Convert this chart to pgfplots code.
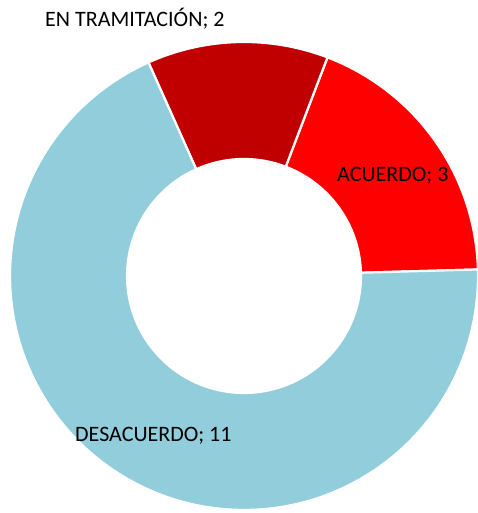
\documentclass[border=0pt]{standalone}
\usepackage{pgfplots}
\pgfplotsset{compat=1.18}
\usepackage{pgfplotstable}
\usepackage{fontspec}
\setmainfont{Carlito}
\definecolor{cAcuerdo}{HTML}{FF0000}
\definecolor{cTram}{HTML}{C00000}
\definecolor{cDesac}{HTML}{92CDDC}

\pgfplotstableread[col sep=comma]{
label,value
ACUERDO,3
TRAMITACION,2
DESACUERDO,11
}\donutdata

% annular sector: #1 start angle, #2 end angle, #3 colour
\newcommand\sector[3]{%
  \addplot[fill=#3, draw=white, line width=2.2pt, line join=round,
    domain=0:2.1, samples=211, variable=\u]
    ({244+((\u<1.05) ? 234 : 117)*cos(((\u<1.05) ? (#1+(#2-#1)*min(\u,1)) : (#2-(#2-#1)*min(max(\u-1.1,0),1))))},
     {-276+((\u<1.05) ? 234 : 117)*sin(((\u<1.05) ? (#1+(#2-#1)*min(\u,1)) : (#2-(#2-#1)*min(max(\u-1.1,0),1))))})
    -- cycle;
}

\begin{document}
\begin{tikzpicture}
\pgfplotstablegetelem{0}{value}\of\donutdata \let\vA\pgfplotsretval
\pgfplotstablegetelem{1}{value}\of\donutdata \let\vB\pgfplotsretval
\pgfplotstablegetelem{2}{value}\of\donutdata \let\vC\pgfplotsretval
\pgfmathsetmacro\tot{\vA+\vB+\vC}
\pgfmathsetmacro\sA{1.6}
\pgfmathsetmacro\eA{\sA+360*\vA/\tot}
\pgfmathsetmacro\eB{\eA+360*\vB/\tot}
\pgfmathsetmacro\eC{\eB+360*\vC/\tot}
\begin{axis}[
  hide axis, scale only axis,
  width=477pt, height=513pt,
  xmin=0, xmax=477, ymin=-513, ymax=0,
  clip=true,
]
\sector{\sA}{\eA}{cAcuerdo}
\sector{\eA}{\eB}{cTram}
\sector{\eB}{\eC}{cDesac}
\node[anchor=base west, inner sep=0pt, font=\fontsize{22}{26}\selectfont] at (axis cs:45,-27) {EN TRAMITACIÓN; 2};
\node[anchor=base west, inner sep=0pt, font=\fontsize{22}{26}\selectfont] at (axis cs:337,-182) {ACUERDO; 3};
\node[anchor=base west, inner sep=0pt, font=\fontsize{22}{26}\selectfont] at (axis cs:75,-442) {DESACUERDO; 11};
\end{axis}
\pgfresetboundingbox
\path[use as bounding box] (current axis.south west) rectangle (current axis.north east);
\end{tikzpicture}
\end{document}
